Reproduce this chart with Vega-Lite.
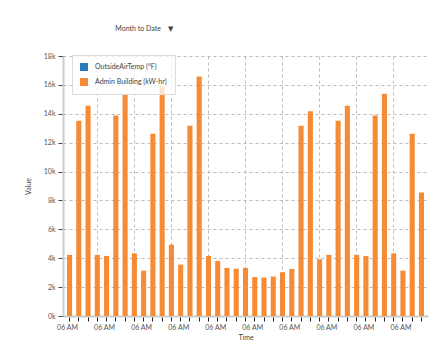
{
  "$schema": "https://vega.github.io/schema/vega-lite/v6.json",
  "width": 365,
  "height": 260,
  "autosize": {"type": "none"},
  "padding": {"left": 63, "top": 56, "right": 15, "bottom": 45},
  "title": {"text": "Month to Date\u00a0\u00a0\u00a0\u00a0▼", "anchor": "start", "dx": 91, "offset": 20, "fontSize": 7, "fontWeight": "normal", "color": "#444", "font": "Lato, DejaVu Sans"},
  "data": {
    "values": [
      {"slot": 0, "series": "Admin Building (kW-hr)", "value": 4230},
      {"slot": 1, "series": "Admin Building (kW-hr)", "value": 13510},
      {"slot": 2, "series": "Admin Building (kW-hr)", "value": 14550},
      {"slot": 3, "series": "Admin Building (kW-hr)", "value": 4230},
      {"slot": 4, "series": "Admin Building (kW-hr)", "value": 4160},
      {"slot": 5, "series": "Admin Building (kW-hr)", "value": 13880},
      {"slot": 6, "series": "Admin Building (kW-hr)", "value": 15380},
      {"slot": 7, "series": "Admin Building (kW-hr)", "value": 4340},
      {"slot": 8, "series": "Admin Building (kW-hr)", "value": 3140},
      {"slot": 9, "series": "Admin Building (kW-hr)", "value": 12610},
      {"slot": 10, "series": "Admin Building (kW-hr)", "value": 15890},
      {"slot": 11, "series": "Admin Building (kW-hr)", "value": 4940},
      {"slot": 12, "series": "Admin Building (kW-hr)", "value": 3560},
      {"slot": 13, "series": "Admin Building (kW-hr)", "value": 13170},
      {"slot": 14, "series": "Admin Building (kW-hr)", "value": 16580},
      {"slot": 15, "series": "Admin Building (kW-hr)", "value": 4160},
      {"slot": 16, "series": "Admin Building (kW-hr)", "value": 3810},
      {"slot": 17, "series": "Admin Building (kW-hr)", "value": 3330},
      {"slot": 18, "series": "Admin Building (kW-hr)", "value": 3270},
      {"slot": 19, "series": "Admin Building (kW-hr)", "value": 3330},
      {"slot": 20, "series": "Admin Building (kW-hr)", "value": 2700},
      {"slot": 21, "series": "Admin Building (kW-hr)", "value": 2660},
      {"slot": 22, "series": "Admin Building (kW-hr)", "value": 2730},
      {"slot": 23, "series": "Admin Building (kW-hr)", "value": 3030},
      {"slot": 24, "series": "Admin Building (kW-hr)", "value": 3260},
      {"slot": 25, "series": "Admin Building (kW-hr)", "value": 13170},
      {"slot": 26, "series": "Admin Building (kW-hr)", "value": 14180},
      {"slot": 27, "series": "Admin Building (kW-hr)", "value": 3930},
      {"slot": 28, "series": "Admin Building (kW-hr)", "value": 4230},
      {"slot": 29, "series": "Admin Building (kW-hr)", "value": 13510},
      {"slot": 30, "series": "Admin Building (kW-hr)", "value": 14550},
      {"slot": 31, "series": "Admin Building (kW-hr)", "value": 4230},
      {"slot": 32, "series": "Admin Building (kW-hr)", "value": 4160},
      {"slot": 33, "series": "Admin Building (kW-hr)", "value": 13880},
      {"slot": 34, "series": "Admin Building (kW-hr)", "value": 15380},
      {"slot": 35, "series": "Admin Building (kW-hr)", "value": 4340},
      {"slot": 36, "series": "Admin Building (kW-hr)", "value": 3140},
      {"slot": 37, "series": "Admin Building (kW-hr)", "value": 12610},
      {"slot": 38, "series": "Admin Building (kW-hr)", "value": 8550}
    ]
  },
  "mark": {"type": "bar"},
  "encoding": {
    "x": {
      "field": "slot",
      "type": "ordinal",
      "scale": {"paddingInner": 0.45, "paddingOuter": 0.43},
      "axis": {
        "title": "Time",
        "labelExpr": "datum.value % 4 == 0 ? '06 AM' : ''",
        "labelAngle": 0,
        "labelOffset": -2,
        "grid": true,
        "gridDash": [3, 3],
        "gridColor": "#bbb",
        "gridOpacity": {"condition": {"test": "datum.value % 4 == 3", "value": 1}, "value": 0},
        "tickColor": "#222",
        "tickSize": 5,
        "domainColor": "#ccc",
        "domainWidth": 2,
        "labelFont": "Lato",
        "labelFontSize": 7,
        "labelColor": "#555",
        "labelPadding": 2,
        "titleFont": "Lato",
        "titleFontSize": 7,
        "titleFontWeight": "normal",
        "titleColor": "#444",
        "titlePadding": 3
      }
    },
    "y": {
      "field": "value",
      "type": "quantitative",
      "scale": {"domain": [0, 18000]},
      "axis": {
        "title": "Value",
        "values": [0, 2000, 4000, 6000, 8000, 10000, 12000, 14000, 16000, 18000],
        "format": "~s",
        "grid": true,
        "gridDash": [3, 3],
        "gridColor": "#bbb",
        "domainColor": "#ccc",
        "domainWidth": 2,
        "tickColor": "#444",
        "tickSize": 5,
        "labelFont": "Lato",
        "labelFontSize": 7,
        "labelColor": "#555",
        "labelPadding": 3,
        "titleFont": "Lato",
        "titleFontSize": 7,
        "titleFontWeight": "normal",
        "titleColor": "#444",
        "titlePadding": 12
      }
    },
    "color": {
      "field": "series",
      "type": "nominal",
      "scale": {"domain": ["OutsideAirTemp (°F)", "Admin Building (kW-hr)"], "range": ["#2b7bba", "#f58b34"]},
      "legend": {
        "orient": "none",
        "legendX": 9,
        "legendY": -1,
        "title": null,
        "symbolType": "square",
        "symbolSize": 64,
        "symbolStrokeWidth": 0,
        "symbolOpacity": 1,
        "fillColor": "rgba(255,255,255,0.75)",
        "strokeColor": "#ddd",
        "padding": 8,
        "rowPadding": 7,
        "labelFont": "Lato",
        "labelFontSize": 7,
        "labelColor": "#444",
        "labelOffset": 7
      }
    }
  },
  "config": {"view": {"stroke": null}}
}
